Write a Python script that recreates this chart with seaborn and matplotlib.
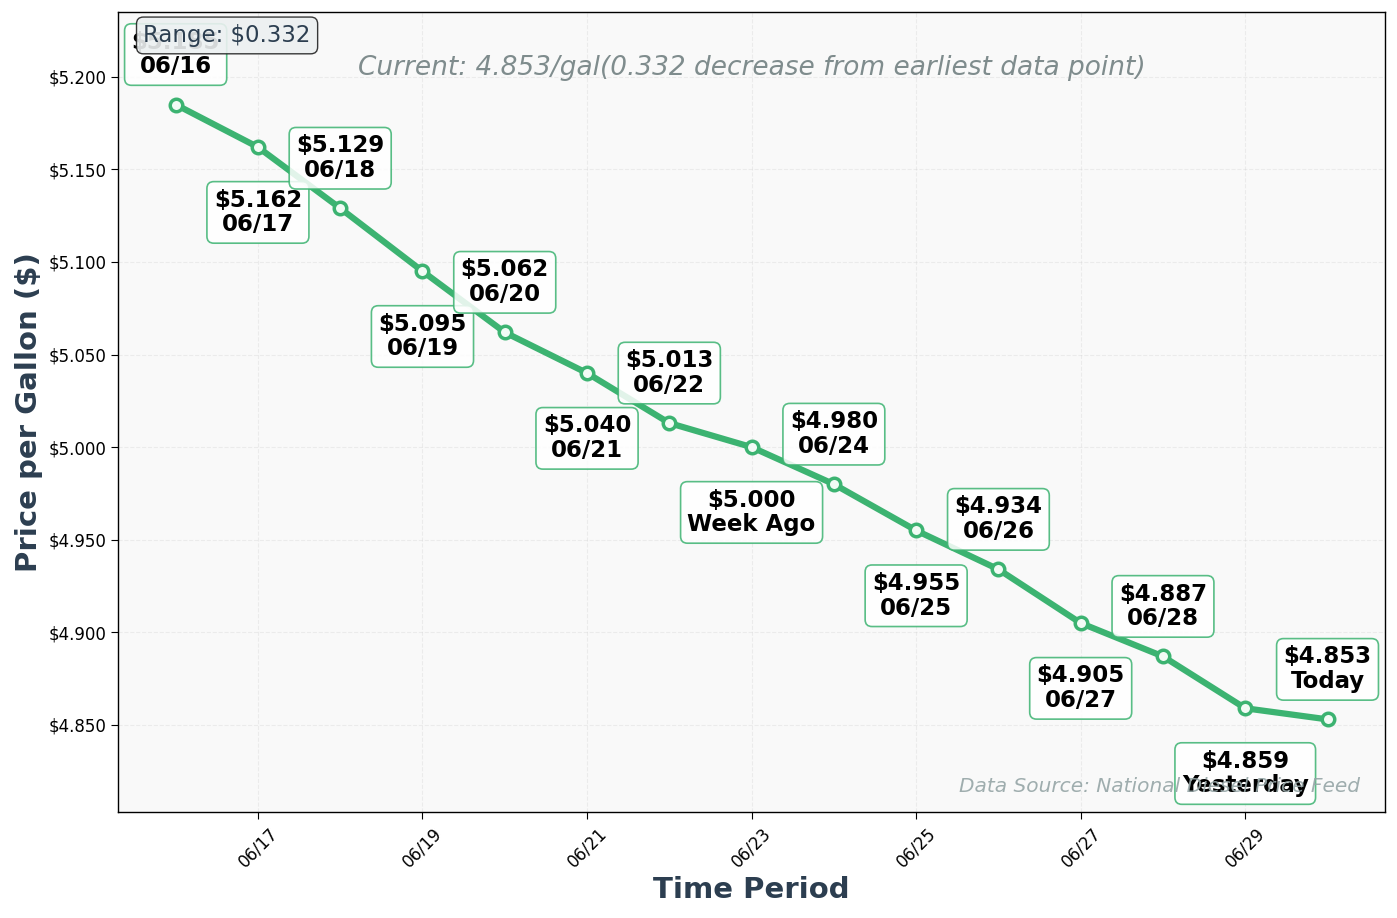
import pandas as pd
import matplotlib.pyplot as plt
import matplotlib.dates as mdates
import seaborn as sns

dates = ['2024-06-16', '2024-06-17', '2024-06-18', '2024-06-19', '2024-06-20',
         '2024-06-21', '2024-06-22', '2024-06-23', '2024-06-24', '2024-06-25',
         '2024-06-26', '2024-06-27', '2024-06-28', '2024-06-29', '2024-06-30']
prices = [5.185, 5.162, 5.129, 5.095, 5.062, 5.040, 5.013, 5.000,
          4.980, 4.955, 4.934, 4.905, 4.887, 4.859, 4.853]
point_names = ['06/16', '06/17', '06/18', '06/19', '06/20', '06/21', '06/22',
               'Week Ago', '06/24', '06/25', '06/26', '06/27', '06/28',
               'Yesterday', 'Today']

GREEN = '#3cb371'
DARK = '#2c3e50'

df = pd.DataFrame({'date': pd.to_datetime(dates), 'price': prices})

sns.set_style('white')
fig, ax = plt.subplots(figsize=(13.97, 9.18), dpi=100)
fig.subplots_adjust(left=0.0845, right=0.9915, top=0.987, bottom=0.1155)
ax.set_facecolor('#f9f9f9')

sns.lineplot(data=df, x='date', y='price', ax=ax, color=GREEN, linewidth=4.5,
             marker='o', markersize=9, markerfacecolor='#f2fbf5',
             markeredgecolor=GREEN, markeredgewidth=2.5, zorder=3)

# alternate labels above / below the points
for i, (d, p, name) in enumerate(zip(df['date'], df['price'], point_names)):
    dy = 36 if i % 2 == 0 else -47
    ax.annotate(f'${p:.3f}\n{name}', (d, p), xytext=(0, dy),
                textcoords='offset points', ha='center', va='center',
                fontsize=16.5, fontweight='bold', color='black',
                linespacing=1.1, zorder=4,
                bbox=dict(boxstyle='round,pad=0.3', facecolor='white',
                          edgecolor=GREEN, alpha=0.85, linewidth=1.2))

lo, hi = min(prices), max(prices)
ax.set_ylim(lo - 0.05, hi + 0.05)
ax.margins(x=0.05)

ax.xaxis.set_major_locator(mdates.DayLocator(interval=2))
ax.xaxis.set_major_formatter(mdates.DateFormatter('%m/%d'))
ax.yaxis.set_major_formatter(plt.FuncFormatter(lambda v, _: f'${v:.3f}'))
plt.setp(ax.get_xticklabels(), rotation=45)
ax.tick_params(axis='both', labelsize=12, length=5, bottom=True, left=True,
               color='black', labelcolor='black')

ax.grid(True, linestyle='--', alpha=0.3, color='#cccccc')
for s in ax.spines.values():
    s.set_color('black')
    s.set_linewidth(1.0)

ax.set_xlabel('Time Period', fontsize=21, fontweight='bold', color=DARK)
ax.set_ylabel('Price per Gallon ($)', fontsize=21, fontweight='bold', color=DARK)

ax.text(0.5, 0.93,
        f'Current: {prices[-1]:.3f}/gal({hi - lo:.3f} decrease from earliest data point)',
        transform=ax.transAxes, ha='center', va='center', fontsize=19,
        style='italic', color='#7f8c8d')
ax.text(0.02, 0.985, f'Range: ${hi - lo:.3f}', transform=ax.transAxes,
        ha='left', va='top', fontsize=16.5, color=DARK, zorder=5,
        bbox=dict(boxstyle='round,pad=0.3', facecolor='#ecf0f1',
                  edgecolor='#222222', alpha=0.9))
ax.text(0.98, 0.02, 'Data Source: National Diesel Price Feed',
        transform=ax.transAxes, ha='right', va='bottom', fontsize=14.5,
        style='italic', color='#95a5a6', alpha=0.9, zorder=5)

plt.savefig('out.png', dpi=100)
